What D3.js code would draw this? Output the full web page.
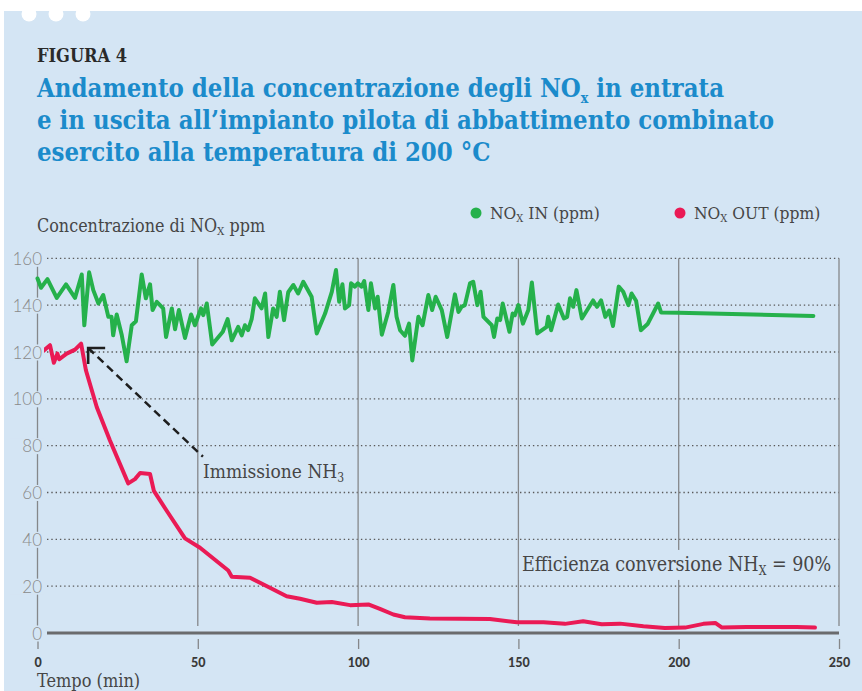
<!DOCTYPE html>
<html>
  <head>
    <meta charset="utf-8" />
    <title>Figura 4</title>
    <script src="https://d3js.org/d3.v7.min.js"></script>
    <style>
      body { margin: 0; background: #fff; }
      .serif { font-family: "DejaVu Serif Condensed", "DejaVu Serif", serif; font-stretch: condensed; }
    </style>
  </head>
  <body>
    <svg width="862" height="691"></svg>

    <script type="text/javascript">
      // NOx IN (ppm)
      var inTime = [0, 1.1, 3.1, 6.0, 8.9, 11.7, 13.8, 14.6, 16.1, 17.4, 19.0, 20.5, 22.1, 23.1, 23.6, 24.7, 26.3, 27.8, 29.4, 30.7,
        32.5, 33.8, 35.1, 35.9, 37.2, 39.2, 40.1, 41.9, 42.9, 44.1, 46.0, 47.9, 49.1, 51.0, 51.7, 52.8, 54.5, 57.8, 59.3, 60.6,
        62.6, 63.7, 64.7, 65.7, 66.8, 67.8, 69.9, 71.0, 72.0, 73.5, 74.6, 75.6, 76.9, 78.2, 79.8, 81.3, 82.9, 85.5, 87.1, 89.7,
        91.8, 93.1, 94.1, 95.1, 95.9, 97.2, 97.8, 99.0, 99.9, 101.1, 101.9, 103.2, 104.0, 105.3, 106.1, 107.4, 109.4, 111.0, 112.0, 113.1,
        114.6, 115.9, 116.9, 118.8, 120.1, 121.9, 123.1, 124.2, 126.1, 127.8, 130.2, 131.3, 132.3, 133.3, 134.9, 135.9, 137.2, 138.2, 139.1, 141.7,
        142.4, 143.4, 144.3, 145.1, 147.2, 148.2, 148.9, 150.0, 151.4, 153.1, 154.2, 155.9, 158.8, 159.3, 160.2, 162.4, 164.2, 165.2, 166.1, 167.1,
        168.1, 169.8, 173.3, 174.5, 175.8, 177.1, 178.3, 179.5, 181.3, 182.7, 184.3, 185.3, 186.7, 188.2, 190.3, 193.6, 194.5, 200, 242];
      var inValue = [151.4, 147.4, 151.1, 143.1, 148.9, 143.1, 153.1, 131.4, 154, 146.4, 140.7, 144.3, 135, 135, 127.1, 136, 127.1, 116, 131.4, 133.1,
        153.1, 142.9, 148.9, 137.9, 141.4, 138.6, 126.4, 138.6, 129.7, 137.9, 126, 136, 131.4, 138.6, 135.7, 140.7, 123.2, 128.6, 134, 125,
        130.7, 127.1, 131.4, 129.3, 134, 142.9, 138.6, 145, 126.4, 138.6, 135, 145.7, 133.6, 145.5, 148.6, 145, 150, 143.6, 127.9, 136.4,
        145.7, 155, 141.4, 148.9, 138.6, 140, 149.3, 147.9, 149.3, 147.9, 150.3, 137.9, 149.3, 138.6, 143.6, 127.4, 137.1, 148.6, 135, 129.3,
        126.9, 132.1, 116.4, 135, 131.4, 144.3, 137.9, 143.6, 137.9, 126.4, 144.6, 137.1, 139.3, 140, 149.3, 150, 140, 145.7, 135, 131.4,
        126.4, 134.3, 133.6, 140.7, 128.6, 136.4, 135.7, 140, 132.1, 137.9, 149.7, 127.9, 130.7, 135, 129.3, 140.3, 134.3, 135, 142.9, 139.3,
        146.4, 134.3, 142, 139.3, 142, 135, 137.7, 131.1, 147.9, 145.7, 140, 145, 141.9, 129.3, 131.9, 140.7, 136.9, 136.7, 135.4];

      // NOx OUT (ppm)
      var outTime = [0.8, 3.9, 5.1, 6.2, 6.8, 9.1, 11.7, 13.6, 15.1, 18.5, 22.6, 28.3, 30.4, 32.0, 35.1, 36.3, 40.3, 46.0, 50.7, 59.5,
        60.6, 66.3, 72.5, 77.7, 81.9, 87.1, 91.8, 97.5, 103.2, 106.8, 111.0, 114.6, 122.4, 141.1, 149.5, 157.8, 164.5, 170.2, 176.0, 181.7,
        189.0, 195.7, 202.0, 207.7, 211.4, 213.4, 221.2, 236.8, 242.5];
      var outValue = [119.3, 122.9, 115.4, 119.3, 116.9, 119.3, 121, 123.6, 112.2, 96.4, 82.2, 63.9, 65.7, 68.3, 67.9, 60.7, 52.2, 40.4, 36.4, 26.7,
        24.0, 23.6, 19.3, 15.7, 14.6, 12.9, 13.2, 11.9, 12.2, 10.3, 7.9, 6.7, 6.2, 6.0, 4.6, 4.6, 3.9, 5.0, 3.7, 4.0,
        2.9, 2.1, 2.3, 3.9, 4.3, 2.4, 2.6, 2.6, 2.3];

      var xTicks = [0, 50, 100, 150, 200, 250];
      var yTicks = [0, 20, 40, 60, 80, 100, 120, 140, 160];

      var green = "#25b14b";
      var red = "#ea1a55";
      var panel = "#d4e5f4";
      var textGrey = "#464646";

      var svg = d3.select("svg");

      // background panel
      svg.append("rect").attr("x", 4).attr("y", 11).attr("width", 858).attr("height", 680).attr("fill", panel);
      svg.selectAll("circle.dot").data([29, 56, 83]).enter().append("circle")
        .attr("cx", function (d) { return d; }).attr("cy", 14).attr("r", 7.5).attr("fill", "#fff");

      // titles
      svg.append("text").attr("class", "serif").attr("x", 37).attr("y", 62)
        .style("font-size", "18px").style("font-weight", "bold").attr("fill", "#2a2a2a").text("FIGURA 4");

      var title = svg.append("g").attr("class", "serif").attr("fill", "#1b8bcb")
        .style("font-size", "25.5px").style("font-weight", "bold");
      var t1 = title.append("text").attr("x", 37).attr("y", 97);
      t1.append("tspan").text("Andamento della concentrazione degli NO");
      t1.append("tspan").attr("dy", 6).style("font-size", "14px").text("x");
      t1.append("tspan").attr("dy", -6).text(" in entrata");
      title.append("text").attr("x", 37).attr("y", 129).text("e in uscita all\u2019impianto pilota di abbattimento combinato");
      title.append("text").attr("x", 37).attr("y", 161).text("esercito alla temperatura di 200 \u00b0C");

      // scales
      var x = d3.scaleLinear().domain([0, 250]).range([37.5, 839]);
      var y = d3.scaleLinear().domain([0, 160]).range([633, 258.3]);

      // axis title and legend
      var yt = svg.append("text").attr("class", "serif").attr("x", 37).attr("y", 232)
        .style("font-size", "17.8px").attr("fill", textGrey);
      yt.append("tspan").text("Concentrazione di NO");
      yt.append("tspan").attr("dy", 3).style("font-size", "11.5px").text("X");
      yt.append("tspan").attr("dy", -3).text(" ppm");

      var legend = [
        { name: "IN", color: green, x: 476 },
        { name: "OUT", color: red, x: 680 }
      ];
      legend.forEach(function (l) {
        svg.append("circle").attr("cx", l.x).attr("cy", 213).attr("r", 5.5).attr("fill", l.color);
        var lt = svg.append("text").attr("class", "serif").attr("x", l.x + 14).attr("y", 219)
          .style("font-size", "17.3px").attr("fill", textGrey);
        lt.append("tspan").text("NO");
        lt.append("tspan").attr("dy", 3).style("font-size", "11px").text("X");
        lt.append("tspan").attr("dy", -3).text(" " + l.name + " (ppm)");
      });

      // dotted horizontal grid
      svg.append("g").selectAll("line").data(yTicks.filter(function (d) { return d > 0; })).enter().append("line")
        .attr("x1", 47).attr("x2", x(250))
        .attr("y1", function (d) { return y(d); }).attr("y2", function (d) { return y(d); })
        .attr("stroke", "#5a5a5a").attr("stroke-width", 1.3).attr("stroke-dasharray", "1.4 2.9");

      // vertical grid lines
      svg.append("g").selectAll("line").data(xTicks).enter().append("line")
        .attr("x1", function (d) { return x(d); }).attr("x2", function (d) { return x(d); })
        .attr("y1", function (d) { return d === 0 ? y(160) + 6 : y(160); }).attr("y2", 626)
        .attr("stroke", "#85878a").attr("stroke-width", 1.3);

      // x axis
      var xAxis = svg.append("g").attr("transform", "translate(0,639)")
        .call(d3.axisBottom(x).tickValues(xTicks).tickSize(10).tickPadding(9));
      xAxis.select(".domain").remove();
      xAxis.selectAll(".tick line").attr("stroke", "#85878a").attr("stroke-width", 1.3);
      xAxis.selectAll("text").attr("fill", "#3a3a3a")
        .style("font-family", "Lato, sans-serif").style("font-size", "12.5px").style("font-weight", "900");

      svg.append("line").attr("x1", 47).attr("x2", x(250)).attr("y1", y(0)).attr("y2", y(0))
        .attr("stroke", "#6a6b6d").attr("stroke-width", 3);

      svg.append("text").attr("class", "serif").attr("x", 37).attr("y", 687)
        .style("font-size", "18px").attr("fill", textGrey).text("Tempo (min)");

      // efficiency note (masks the grid behind it)
      var note = svg.append("g");
      note.append("rect").attr("x", x(151.1) - 3).attr("y", y(26.5) - 21).attr("width", 318).attr("height", 30).attr("fill", panel);
      var nt = note.append("text").attr("class", "serif").attr("x", x(151.1)).attr("y", y(26.5))
        .style("font-size", "19.5px").attr("fill", textGrey);
      nt.append("tspan").text("Efficienza conversione NH");
      nt.append("tspan").attr("dy", 4).style("font-size", "12px").text("X");
      nt.append("tspan").attr("dy", -4).text(" = 90%");

      // lines
      var line = d3.line().x(function (d) { return x(d[0]); }).y(function (d) { return y(d[1]); });
      var inData = d3.zip(inTime, inValue);
      var outData = d3.zip(outTime, outValue);

      svg.append("path").datum(inData).attr("fill", "none").attr("stroke", green)
        .attr("stroke-width", 4).attr("stroke-linejoin", "round").attr("stroke-linecap", "round").attr("d", line);
      svg.append("path").datum(outData).attr("fill", "none").attr("stroke", red)
        .attr("stroke-width", 4).attr("stroke-linejoin", "round").attr("stroke-linecap", "round").attr("d", line);

      // NH3 injection arrow
      var tip = [15.8, 121.7], tail = [51.6, 75.3];
      svg.append("line").attr("x1", x(tip[0])).attr("y1", y(tip[1])).attr("x2", x(tail[0])).attr("y2", y(tail[1]))
        .attr("stroke", "#1e1e1e").attr("stroke-width", 2.5).attr("stroke-dasharray", "8 5");
      svg.append("path")
        .attr("d", "M" + (x(tip[0]) + 17) + "," + y(tip[1]) + "H" + x(tip[0]) + "V" + (y(tip[1]) + 16))
        .attr("fill", "none").attr("stroke", "#1e1e1e").attr("stroke-width", 2.6);
      var it = svg.append("text").attr("class", "serif").attr("x", x(tail[0])).attr("y", y(tail[1]) + 21)
        .style("font-size", "19px").attr("fill", textGrey);
      it.append("tspan").text("Immissione NH");
      it.append("tspan").attr("dy", 4).style("font-size", "12px").text("3");

      // y axis labels over the axis line
      var yAxis = svg.append("g").attr("transform", "translate(42,0)")
        .call(d3.axisLeft(y).tickValues(yTicks).tickSize(0).tickPadding(0));
      yAxis.select(".domain").remove();
      yAxis.selectAll(".tick").insert("rect", "text")
        .attr("x", -32).attr("y", -8).attr("width", 34).attr("height", 16).attr("fill", panel);
      yAxis.selectAll("text").attr("fill", "#8a8a8a").attr("dy", "0.36em")
        .style("font-family", "Lato, sans-serif").style("font-size", "17px").style("font-weight", "300");
    </script>
  </body>
</html>
